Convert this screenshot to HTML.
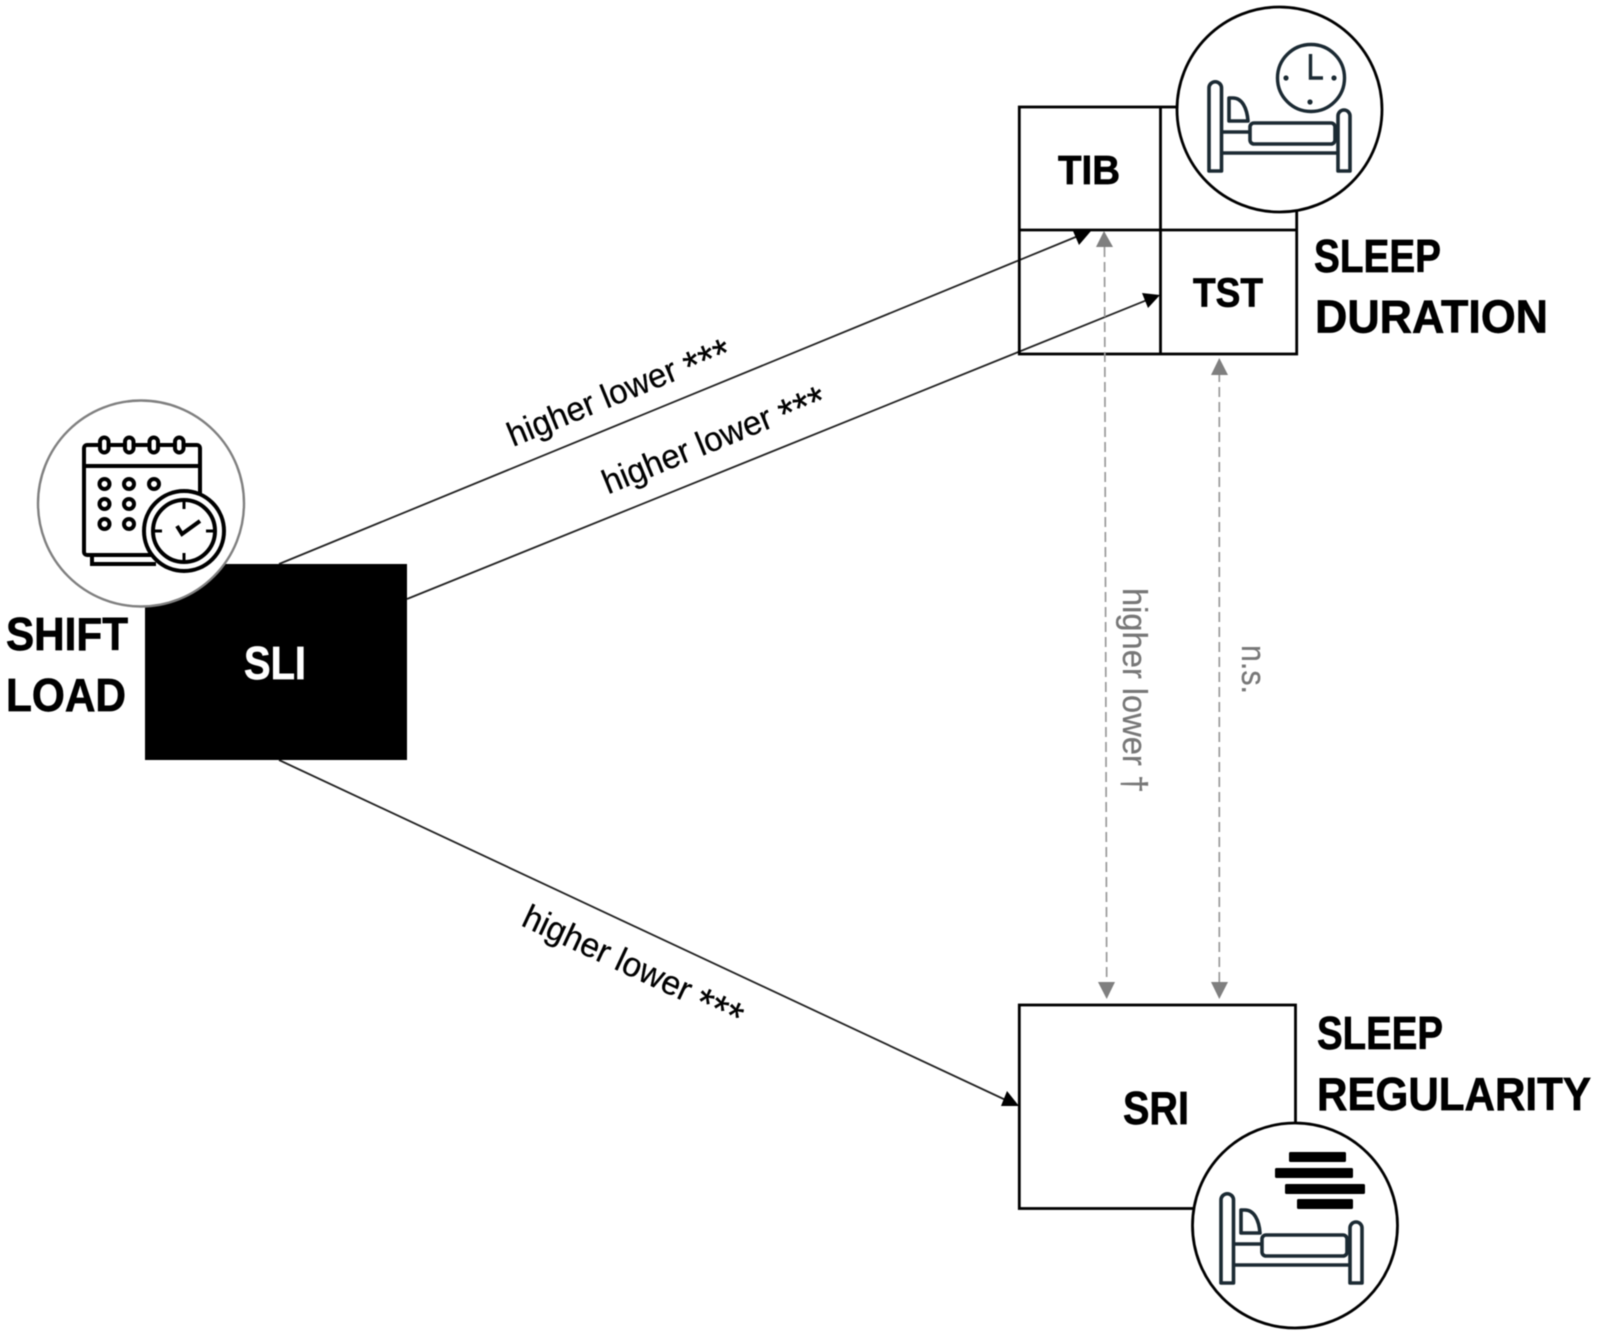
<!DOCTYPE html>
<html><head><meta charset="utf-8"><style>
html,body{margin:0;padding:0;background:#fff;width:1597px;height:1335px;overflow:hidden}
svg{display:block;filter:blur(.55px)}
.b{font-family:"Liberation Sans",sans-serif;font-weight:700;fill:#000;stroke:#000;stroke-width:.7px}
.w{font-family:"Liberation Sans",sans-serif;font-weight:700;fill:#fff;stroke:#fff;stroke-width:.7px}
.r{font-family:"Liberation Sans",sans-serif;font-size:34px;fill:#000;stroke:#000;stroke-width:.25px}
.g{font-family:"Liberation Sans",sans-serif;font-size:34px;fill:#777;stroke:#777;stroke-width:.25px}
</style></head><body>
<svg width="1597" height="1335" viewBox="0 0 1597 1335" xmlns="http://www.w3.org/2000/svg">
<defs>
<g id="bed" fill="none" stroke="#1b2a33" stroke-width="3.6">
<path d="M1209 171V88a6.2 6.2 0 0 1 12.5 0V171z" stroke-linejoin="round"/>
<path d="M1338 171V116a6 6 0 0 1 12 0V171z" stroke-linejoin="round"/>
<path d="M1229 121V98h4c9 0 14 10 15 23z" stroke-linejoin="round"/>
<rect x="1250" y="123" width="85" height="21" rx="4"/>
<path d="M1222 132h28M1335 132h3M1222 153h116"/>
</g>
</defs>
<rect width="1597" height="1335" fill="#fff"/>

<!-- lines -->
<line x1="279" y1="564" x2="1083" y2="234" stroke="#222" stroke-width="1.8"/>
<line x1="407" y1="599" x2="1152" y2="298" stroke="#222" stroke-width="1.8"/>
<line x1="279" y1="760" x2="1010" y2="1102" stroke="#222" stroke-width="1.8"/>

<!-- boxes -->
<g fill="none" stroke="#000" stroke-width="2.8">
<rect x="1019.3" y="107" width="277.4" height="247"/>
<path d="M1019.3 230H1296.7M1160.5 107V354"/>
<rect x="1019.3" y="1005" width="276.2" height="203.5"/>
</g>
<rect x="145" y="564" width="262" height="196" fill="#000"/>

<!-- arrowheads -->
<polygon points="1091,231 1073,231 1079,245" fill="#000"/>
<polygon points="1160,295 1142,293 1148,308" fill="#000"/>
<polygon points="1019,1106 1001,1106 1007,1091" fill="#000"/>

<!-- dashed -->
<g stroke="#999" stroke-width="1.7" stroke-dasharray="10 5" fill="none">
<line x1="1104.5" y1="247" x2="1106.7" y2="985"/>
<line x1="1219.3" y1="372" x2="1219.3" y2="985"/>
</g>
<g fill="#7f7f7f">
<polygon points="1104,231 1096,247 1113,247"/>
<polygon points="1219.3,358 1211,375 1228,375"/>
<polygon points="1106.7,999 1098,982 1115,982"/>
<polygon points="1219.3,999 1211,982 1228,982"/>
</g>

<!-- circles -->
<circle cx="1279.5" cy="109.5" r="102.5" fill="#fff" stroke="#000" stroke-width="2.8"/>
<circle cx="1295" cy="1225.5" r="102.5" fill="#fff" stroke="#000" stroke-width="2.8"/>
<circle cx="141" cy="503.5" r="103" fill="#fff" stroke="#808080" stroke-width="2.4"/>

<!-- top bed & clock -->
<use href="#bed"/>
<g fill="none" stroke="#1b2a33" stroke-width="3.4">
<circle cx="1311" cy="78" r="33.5"/>
<path d="M1310.5 54V78H1323"/>
</g>
<g fill="#1b2a33"><circle cx="1286" cy="78" r="2.6"/><circle cx="1334" cy="78" r="2.6"/><circle cx="1310" cy="102" r="2.6"/></g>

<!-- bottom bed & bars -->
<use href="#bed" transform="translate(12 1112)"/>
<g fill="#000">
<rect x="1289" y="1152" width="57" height="10" rx="1.5"/>
<rect x="1275" y="1168" width="78" height="10" rx="1.5"/>
<rect x="1285" y="1184" width="80" height="10" rx="1.5"/>
<rect x="1297" y="1199" width="56" height="10" rx="1.5"/>
</g>

<!-- calendar icon -->
<g fill="none" stroke="#000" stroke-width="4">
<path d="M92 555V564H156"/>
<rect x="84" y="445" width="116" height="110" rx="3" fill="#fff"/>
<path d="M84 466H200"/>
<g fill="#fff">
<rect x="100" y="437.5" width="8.5" height="15" rx="4.2"/>
<rect x="125" y="437.5" width="8.5" height="15" rx="4.2"/>
<rect x="149.5" y="437.5" width="8.5" height="15" rx="4.2"/>
<rect x="175" y="437.5" width="8.5" height="15" rx="4.2"/>
</g>
<circle cx="104.5" cy="484" r="5"/><circle cx="129" cy="484" r="5"/><circle cx="154" cy="484" r="5"/>
<circle cx="104.5" cy="504" r="5"/><circle cx="129" cy="504" r="5"/>
<circle cx="104.5" cy="524" r="5"/><circle cx="129" cy="524" r="5"/>
<circle cx="184" cy="531" r="40" fill="#fff"/>
<circle cx="184" cy="531" r="31"/>
<path d="M184 500V509M184 553V562M153 531H162M206 531H215" stroke-width="3"/>
<path d="M177 526L182 534L200 521" stroke-width="4"/>
</g>

<!-- bold labels -->
<text class="b" x="1058" y="184" font-size="41" textLength="62" lengthAdjust="spacingAndGlyphs">TIB</text>
<text class="b" x="1193" y="306.5" font-size="41" textLength="70" lengthAdjust="spacingAndGlyphs">TST</text>
<text class="w" x="244" y="679" font-size="46" textLength="62" lengthAdjust="spacingAndGlyphs">SLI</text>
<text class="b" x="1123" y="1124" font-size="46" textLength="66" lengthAdjust="spacingAndGlyphs">SRI</text>
<text class="b" x="6" y="650" font-size="46" textLength="122" lengthAdjust="spacingAndGlyphs">SHIFT</text>
<text class="b" x="6" y="711" font-size="46" textLength="120" lengthAdjust="spacingAndGlyphs">LOAD</text>
<text class="b" x="1314" y="272" font-size="46" textLength="127" lengthAdjust="spacingAndGlyphs">SLEEP</text>
<text class="b" x="1315" y="332.5" font-size="46" textLength="233" lengthAdjust="spacingAndGlyphs">DURATION</text>
<text class="b" x="1317" y="1049" font-size="46" textLength="126" lengthAdjust="spacingAndGlyphs">SLEEP</text>
<text class="b" x="1317" y="1110" font-size="46" textLength="274" lengthAdjust="spacingAndGlyphs">REGULARITY</text>

<!-- connector labels -->
<text class="r" transform="translate(513 447) rotate(-22.2)" textLength="237" lengthAdjust="spacingAndGlyphs">higher lower <tspan font-size="42" dy="7">***</tspan></text>
<text class="r" transform="translate(608 494.5) rotate(-22.2)" textLength="237" lengthAdjust="spacingAndGlyphs">higher lower <tspan font-size="42" dy="7">***</tspan></text>
<text class="r" transform="translate(520 925) rotate(25)" textLength="240" lengthAdjust="spacingAndGlyphs">higher lower <tspan font-size="42" dy="7">***</tspan></text>
<text class="g" transform="translate(1123 588) rotate(90)" textLength="205" lengthAdjust="spacingAndGlyphs">higher lower †</text>
<text class="g" transform="translate(1242 645) rotate(90)" textLength="49" lengthAdjust="spacingAndGlyphs">n.s.</text>
</svg>
</body></html>
